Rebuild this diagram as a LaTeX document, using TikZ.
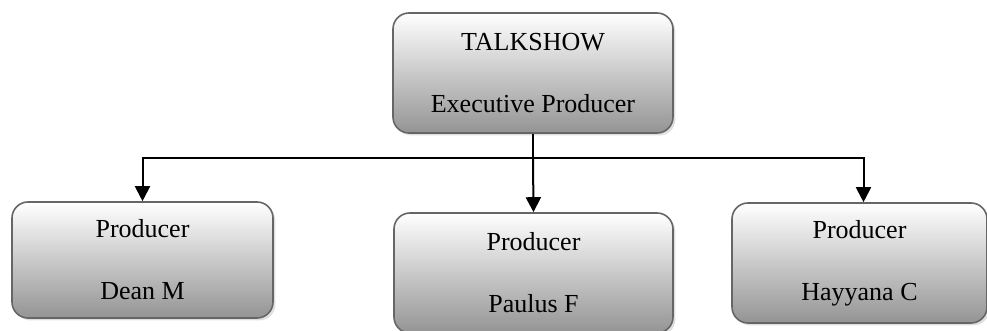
\documentclass[tikz,border=0pt]{standalone}
\usepackage{fontspec}
\setmainfont{Liberation Serif}
\usetikzlibrary{arrows.meta,shadows}

\begin{document}
\begin{tikzpicture}[x=0.5pt,y=-0.5pt,
  orgbox/.style={draw=black!60,line width=0.8pt,rounded corners=8pt,
    top color=white,bottom color=black!42,align=center,inner sep=0pt,
    font=\fontsize{13}{16}\selectfont,
    drop shadow={opacity=0.25,shadow xshift=1.2pt,shadow yshift=-1.2pt}},
  link/.style={line width=1pt,black},
  tip/.style={-{Triangle[width=7.5pt,length=7.5pt]}}]
\useasboundingbox (0,0) rectangle (987,331);
% \draw[help lines] (0,0) grid (987,331);
\node (talk) [orgbox,minimum width=140pt,minimum height=60pt] at (533,73) {TALKSHOW\\[15pt]Executive Producer};
\node (dean) [orgbox,minimum width=130.5pt,minimum height=58pt] at (142.5,260) {Producer\\[15pt]Dean M};
\node (paulus) [orgbox,minimum width=139.5pt,minimum height=60pt] at (533.5,273) {Producer\\[15pt]Paulus F};
\node (hay) [orgbox,minimum width=127.5pt,minimum height=60pt] at (859.5,263) {Producer\\[15pt]Hayyana C};
%
\coordinate (split) at (talk.south |- 0,158);
\draw[link] (talk.south) -- (split);
\draw[link,tip] (split) -| (dean.north);
\draw[link,tip] (split) -- (paulus.north);
\draw[link,tip] (split) -| ([xshift=2pt]hay.north);
\end{tikzpicture}
\end{document}
